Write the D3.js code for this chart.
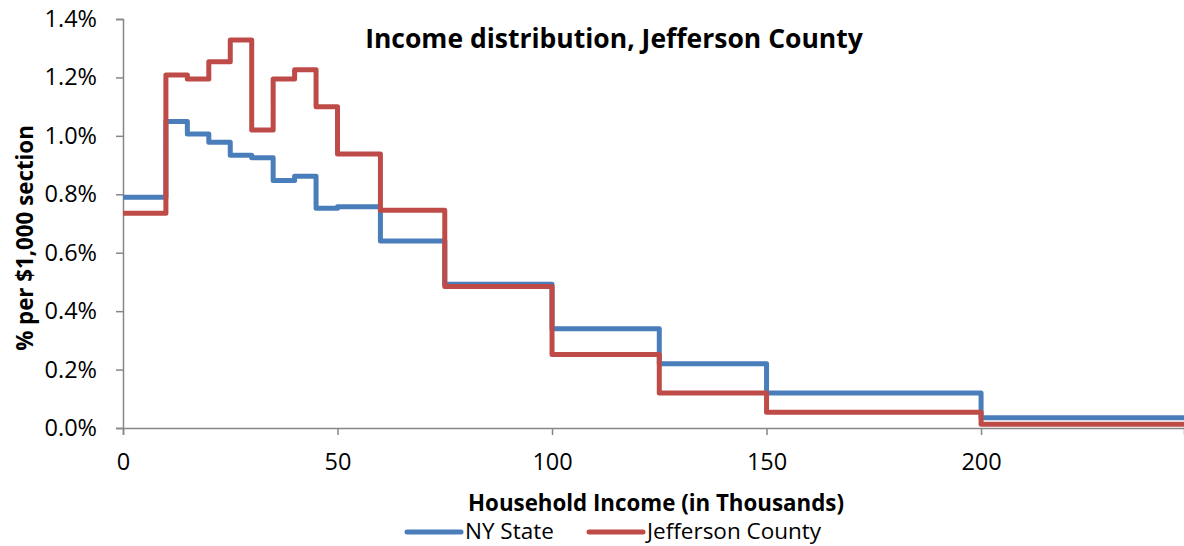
<!DOCTYPE html>
<html><head><meta charset="utf-8">
<script src="https://cdn.jsdelivr.net/npm/d3@7"></script>
<style>body{margin:0;background:#fff}svg{display:block}text{font-family:"Open Sans","Noto Sans",sans-serif}</style>
</head><body><svg id="c" width="1184" height="546"></svg>
<script>
const binEdges = [0,10,15,20,25,30,35,40,45,50,60,75,100,125,150,200,250];
const nyState = [0.79,1.049,1.006,0.978,0.934,0.925,0.847,0.862,0.752,0.757,0.640,0.492,0.340,0.220,0.120,0.035];
const jefferson = [0.735,1.208,1.195,1.254,1.328,1.020,1.195,1.226,1.100,0.938,0.745,0.484,0.252,0.120,0.054,0.013];
const seriesNames = ["NY State","Jefferson County"];
const colors = ["#4A7EBB","#BE4B48"];
const xTicks = [0,50,100,150,200];
const yTicks = [0,0.2,0.4,0.6,0.8,1.0,1.2,1.4];

const svg = d3.select("#c");
const x = d3.scaleLinear().domain([0,247.3]).range([123,1184]);
const y = d3.scaleLinear().domain([0,1.4]).range([428,19]);

const yAxis = d3.axisLeft(y).tickValues(yTicks).tickSize(7).tickPadding(19).tickFormat(d=>d.toFixed(1)+"%");
const gy = svg.append("g").attr("transform","translate(123,0)").call(yAxis);
const xAxis = d3.axisBottom(x).tickValues(xTicks).tickSize(7).tickPadding(18).tickFormat(d3.format("d"));
const gx = svg.append("g").attr("transform","translate(0,428)").call(xAxis);
[gx,gy].forEach(g=>{
  g.selectAll("path").attr("stroke","#868686").attr("stroke-width",1.5);
  g.selectAll("line").attr("stroke","#868686").attr("stroke-width",1.5);
  g.selectAll("text").attr("font-size",23.5).attr("fill","#000");
});

const line = d3.line().x(d=>x(d[0])).y(d=>y(d[1])).curve(d3.curveStepAfter);
[nyState,jefferson].forEach((s,i)=>{
  const pts = s.map((v,j)=>[binEdges[j],v]);
  pts.push([binEdges[binEdges.length-1], s[s.length-1]]);
  svg.append("path").datum(pts).attr("d",line).attr("fill","none")
    .attr("stroke",colors[i]).attr("stroke-width",5).attr("stroke-linejoin","round");
});

svg.append("text").attr("x",614).attr("y",48).attr("text-anchor","middle")
  .attr("font-size",26.5).attr("font-weight","bold").text("Income distribution, Jefferson County");
svg.append("text").attr("x",656).attr("y",511).attr("text-anchor","middle")
  .attr("font-size",22.3).attr("font-weight","bold").text("Household Income (in Thousands)");
svg.append("text").attr("transform","translate(33,238) rotate(-90)").attr("text-anchor","middle")
  .attr("font-size",22.3).attr("font-weight","bold").text("% per $1,000 section");

const legX = [407,589];
seriesNames.forEach((n,i)=>{
  svg.append("line").attr("x1",legX[i]).attr("x2",legX[i]+54).attr("y1",532).attr("y2",532)
    .attr("stroke",colors[i]).attr("stroke-width",5).attr("stroke-linecap","round");
  svg.append("text").attr("x",legX[i]+58).attr("y",539).attr("font-size",22.5).text(n);
});
</script></body></html>
